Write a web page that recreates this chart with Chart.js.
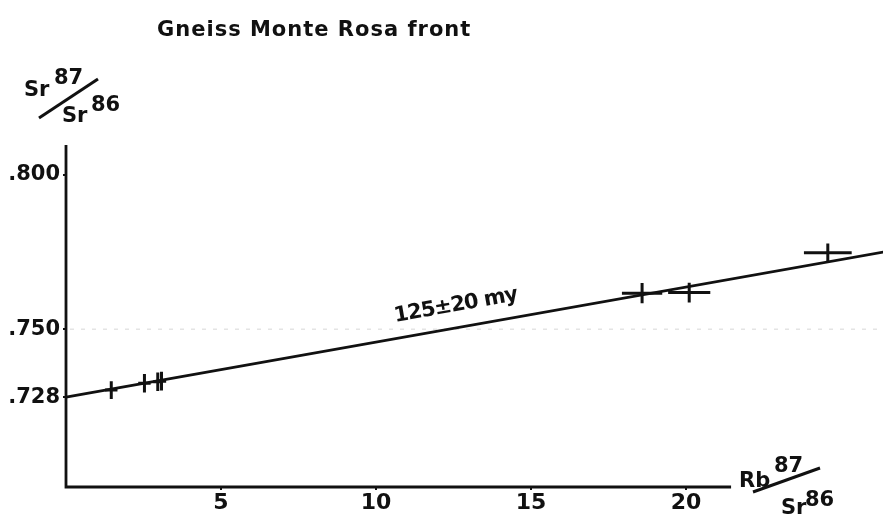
<!DOCTYPE html>
<html>
<head>
<meta charset="utf-8">
<script src="https://cdn.jsdelivr.net/npm/chart.js@4"></script>
<style>
  html, body { margin: 0; padding: 0; background: #fff; }
</style>
</head>
<body>
<canvas id="isochron" width="883" height="516"></canvas>
<script>
// Rb87/Sr86 vs Sr87/Sr86
const rbSr  = [1.46, 2.53, 2.96, 3.08, 18.58, 20.1, 24.57];
const srSr  = [0.7303, 0.7325, 0.7330, 0.7332, 0.7617, 0.7619, 0.7748];
const rbErr = [0.2, 0.2, 0.15, 0.15, 0.65, 0.68, 0.77];
const srErr = [0.0029, 0.0030, 0.0030, 0.0030, 0.0033, 0.0032, 0.0030];

// isochron line
const isoX = [0, 26.4];
const isoY = [0.728, 0.7751];

const xTicks = [5, 10, 15, 20];
const yTicks = [0.728, 0.750, 0.800];

const ink = '#111';
const font = '"DejaVu Sans", sans-serif';

const errorBars = {
  id: 'errorBars',
  afterDatasetsDraw(chart) {
    const { ctx, scales: { x, y } } = chart;
    ctx.save();
    ctx.strokeStyle = ink;
    ctx.lineWidth = 3;
    rbSr.forEach((v, i) => {
      const px = x.getPixelForValue(v), py = y.getPixelForValue(srSr[i]);
      ctx.beginPath();
      ctx.moveTo(x.getPixelForValue(v - rbErr[i]), py);
      ctx.lineTo(x.getPixelForValue(v + rbErr[i]), py);
      ctx.moveTo(px, y.getPixelForValue(srSr[i] - srErr[i]));
      ctx.lineTo(px, y.getPixelForValue(srSr[i] + srErr[i]));
      ctx.stroke();
    });
    ctx.restore();
  }
};

const decor = {
  id: 'decor',
  beforeDatasetsDraw(chart) {
    const { ctx, chartArea: a, scales: { y } } = chart;
    // faint dotted line at .750
    ctx.save();
    ctx.strokeStyle = '#e4e4e4';
    ctx.lineWidth = 1.5;
    ctx.setLineDash([4, 7]);
    const py = y.getPixelForValue(0.750);
    ctx.beginPath();
    ctx.moveTo(a.left + 4, py);
    ctx.lineTo(a.right, py);
    ctx.stroke();
    ctx.restore();
  },
  afterDraw(chart) {
    const { ctx, chartArea: a, scales: { x, y } } = chart;
    ctx.save();
    ctx.strokeStyle = ink;
    ctx.fillStyle = ink;
    ctx.lineWidth = 2.8;
    // axes
    ctx.beginPath();
    ctx.moveTo(a.left, a.top);
    ctx.lineTo(a.left, a.bottom);
    ctx.lineTo(x.getPixelForValue(21.45), a.bottom);
    ctx.stroke();

    // title
    ctx.font = 'bold 21px ' + font;
    ctx.textBaseline = 'alphabetic';
    ctx.textAlign = 'left';
    ctx.letterSpacing = '1px';
    ctx.fillText('Gneiss Monte Rosa front', 157, 36);
    ctx.letterSpacing = '0px';

    // age label along the isochron
    const lx = x.getPixelForValue(12.6);
    const ang = Math.atan2(y.getPixelForValue(isoY[0]) - y.getPixelForValue(isoY[1]),
                           x.getPixelForValue(isoX[1]) - x.getPixelForValue(isoX[0]));
    ctx.save();
    ctx.translate(lx, 311);
    ctx.rotate(-ang);
    ctx.font = 'bold 21px ' + font;
    ctx.textAlign = 'center';
    ctx.letterSpacing = '-1px';
    ctx.fillText('125\u00b120 my', 0, 0);
    ctx.restore();

    // axis titles as slanted fractions
    ctx.font = 'bold 21px ' + font;
    ctx.textAlign = 'left';
    ctx.lineWidth = 3;
    // y
    ctx.fillText('Sr', 24, 96);
    ctx.fillText('87', 54, 84);
    ctx.fillText('Sr', 62, 122);
    ctx.fillText('86', 91, 111);
    ctx.beginPath();
    ctx.moveTo(39, 118);
    ctx.lineTo(98, 79);
    ctx.stroke();
    // x
    ctx.fillText('Rb', 739, 487);
    ctx.fillText('87', 774, 472);
    ctx.fillText('Sr', 781, 514);
    ctx.fillText('86', 805, 506);
    ctx.beginPath();
    ctx.moveTo(753, 492);
    ctx.lineTo(820, 468);
    ctx.stroke();
    ctx.restore();
  }
};

new Chart(document.getElementById('isochron').getContext('2d'), {
  type: 'scatter',
  data: {
    datasets: [
      {
        label: 'isochron',
        data: isoX.map((v, i) => ({ x: v, y: isoY[i] })),
        showLine: true,
        borderColor: ink,
        borderWidth: 2.8,
        pointRadius: 0,
        clip: false
      },
      {
        label: 'samples',
        data: rbSr.map((v, i) => ({ x: v, y: srSr[i] })),
        pointRadius: 0
      }
    ]
  },
  options: {
    responsive: false,
    animation: false,
    layout: { padding: { top: 145, left: 0, right: 0, bottom: 0 } },
    plugins: { legend: { display: false }, tooltip: { enabled: false } },
    scales: {
      x: {
        type: 'linear',
        min: 0,
        max: 26.35,
        afterBuildTicks: s => { s.ticks = xTicks.map(v => ({ value: v })); },
        afterFit: s => { s.height = 29; },
        border: { display: false },
        grid: { drawOnChartArea: false, color: ink, lineWidth: 2, tickLength: 3 },
        ticks: { color: ink, font: { family: font, size: 22, weight: 'bold' }, padding: 0, maxRotation: 0 }
      },
      y: {
        min: 0.6989,
        max: 0.8097,
        afterBuildTicks: s => { s.ticks = yTicks.map(v => ({ value: v })); },
        afterFit: s => { s.width = 66; },
        border: { display: false },
        grid: { drawOnChartArea: false, color: ink, lineWidth: 2, tickLength: 3 },
        ticks: { color: ink, font: { family: font, size: 21, weight: 'bold' }, padding: 3,
                 callback: v => v.toFixed(3).slice(1) }
      }
    }
  },
  plugins: [decor, errorBars]
});
</script>
</body>
</html>
